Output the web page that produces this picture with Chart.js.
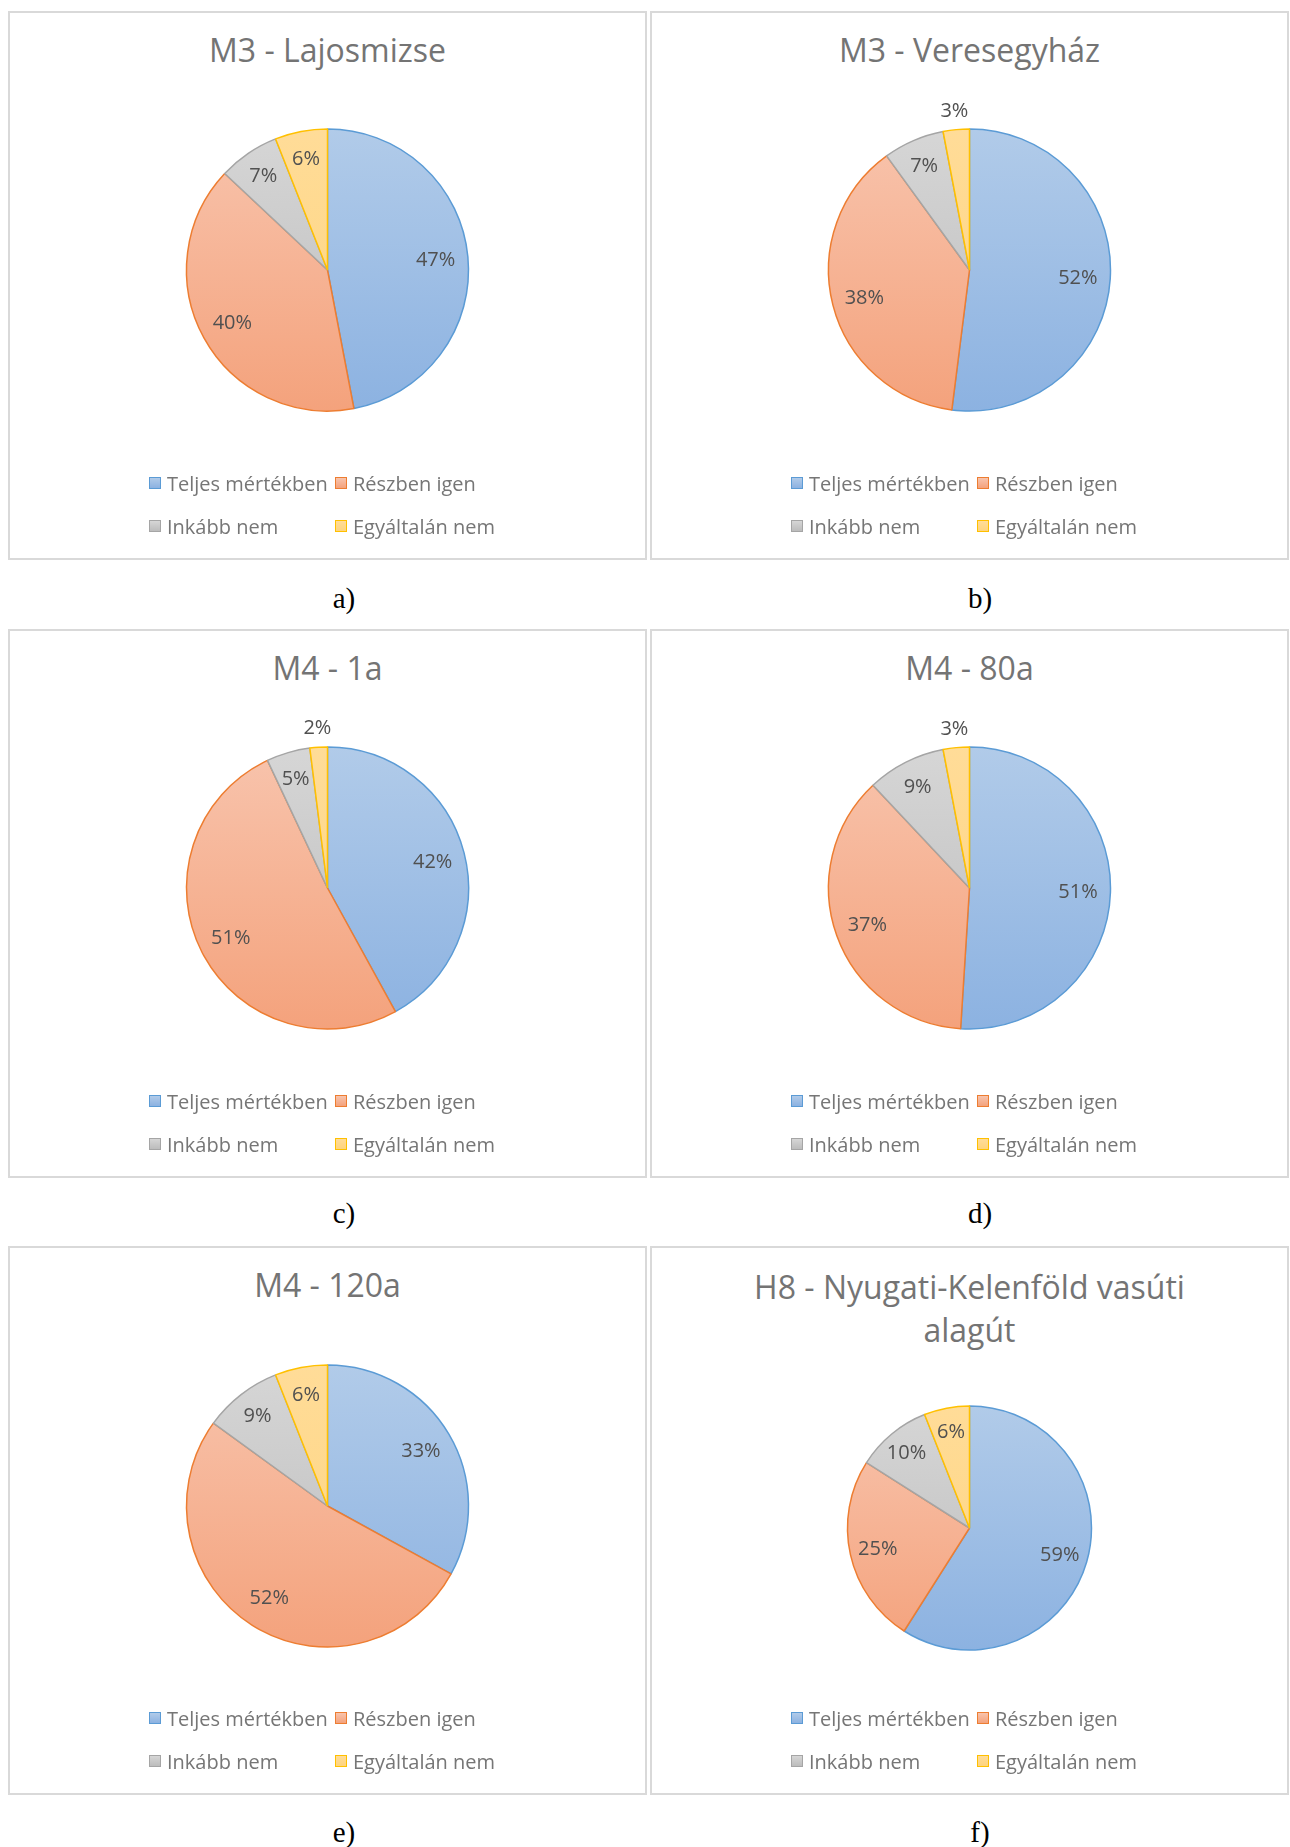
<!DOCTYPE html>
<html>
<head>
<meta charset="utf-8">
<script src="https://cdn.jsdelivr.net/npm/chart.js@4.4.1/dist/chart.umd.min.js"></script>
<style>
    body {
        margin: 0;
        background: #fff;
        width: 1290px;
        height: 1847px;
        position: relative;
        overflow: hidden;
        font-family: "Open Sans", sans-serif;
    }
    .panel {
        position: absolute;
        width: 639px;
        height: 549px;
        box-sizing: border-box;
        border: 2px solid #d9d9d9;
        background: #fff;
    }
    .panel canvas {
        position: absolute;
        left: 0;
    }
    .title {
        position: absolute;
        left: 0;
        right: 0;
        text-align: center;
        color: #747474;
        font-size: 32px;
        line-height: 43px;
        white-space: nowrap;
    }
    .legend {
        position: absolute;
        left: 139px;
        display: grid;
        grid-template-columns: 186px auto;
        font-size: 20px;
        line-height: 43px;
        color: #767676;
        white-space: nowrap;
    }
    .legend .item {
        display: flex;
        align-items: center;
    }
    .legend i {
        display: inline-block;
        width: 12px;
        height: 12px;
        box-sizing: border-box;
        border: 1.5px solid;
        margin-right: 6px;
    }
    .caption {
        position: absolute;
        font-family: "Liberation Serif", serif;
        font-size: 29px;
        color: #000;
        transform: translate(-50%, -50%);
    }
</style>
</head>
<body>
<script>
// answer categories, same order in every panel
const categories = ["Teljes mértékben", "Részben igen", "Inkább nem", "Egyáltalán nem"];

const panelTitles = [
    ["M3 - Lajosmizse"],
    ["M3 - Veresegyház"],
    ["M4 - 1a"],
    ["M4 - 80a"],
    ["M4 - 120a"],
    ["H8 - Nyugati-Kelenföld vasúti", "alagút"]
];
const panelCaptions = ["a)", "b)", "c)", "d)", "e)", "f)"];

// shares in percent
const lajosmizse = [47, 40, 7, 6];
const veresegyhaz = [52, 38, 7, 3];
const m4_1a = [42, 51, 5, 2];
const m4_80a = [51, 37, 9, 3];
const m4_120a = [33, 52, 9, 6];
const h8Alagut = [59, 25, 10, 6];
const panelValues = [lajosmizse, veresegyhaz, m4_1a, m4_80a, m4_120a, h8Alagut];

// office-style gradient fills + outlines
const fillTop = ["#b1cbe9", "#f8c4ad", "#d6d6d6", "#ffdc98"];
const fillBottom = ["#8cb2e1", "#f4a27c", "#bcbcbc", "#fed47e"];
const borderColors = ["#5b9bd5", "#ed7d31", "#a5a5a5", "#ffc000"];

// panel boxes (outer border) and pie placement inside them
const panelLayout = [
    { left: 8,   top: 11,   cy: 258.5, r: 141, titleY: 38.6 },
    { left: 650, top: 11,   cy: 258.5, r: 141, titleY: 38.6 },
    { left: 8,   top: 629,  cy: 258.5, r: 141, titleY: 38.6 },
    { left: 650, top: 629,  cy: 258.5, r: 141, titleY: 38.6 },
    { left: 8,   top: 1246, cy: 259.5, r: 141, titleY: 38.6 },
    { left: 650, top: 1246, cy: 281.5, r: 122, titleY: 40.5 }
];
const captionPos = [[344, 598], [980, 598], [344, 1213], [980, 1213], [344, 1832], [980, 1832]];

const CANVAS_W = 635;
const CANVAS_H = 400;

// percentage labels: inside the slice, tiny slices go outside the rim
const pctLabels = {
    id: "pctLabels",
    afterDatasetsDraw(chart) {
        const ctx = chart.ctx;
        const values = chart.data.datasets[0].data;
        ctx.save();
        ctx.font = '20px "Open Sans"';
        ctx.fillStyle = "#505050";
        ctx.textAlign = "center";
        ctx.textBaseline = "middle";
        chart.getDatasetMeta(0).data.forEach((arc, i) => {
            const p = arc.getProps(["x", "y", "startAngle", "endAngle", "outerRadius"], true);
            const mid = (p.startAngle + p.endAngle) / 2;
            let k = 0.77;
            if (values[i] <= 3) k = 1.14;
            else if (values[i] < 15) k = 0.81;
            const d = p.outerRadius * k;
            ctx.fillText(values[i] + "%", p.x + Math.cos(mid) * d, p.y + Math.sin(mid) * d + 1);
        });
        ctx.restore();
    }
};

function sliceFill(radius) {
    return (c) => {
        const chart = c.chart;
        const area = chart.chartArea;
        const i = c.dataIndex;
        if (!area) return fillTop[i];
        const cy = (area.top + area.bottom) / 2;
        const g = chart.ctx.createLinearGradient(0, cy - radius, 0, cy + radius);
        g.addColorStop(0, fillTop[i]);
        g.addColorStop(1, fillBottom[i]);
        return g;
    };
}

function buildLegend() {
    const legend = document.createElement("div");
    legend.className = "legend";
    categories.forEach((name, i) => {
        const item = document.createElement("span");
        item.className = "item";
        const box = document.createElement("i");
        box.style.borderColor = borderColors[i];
        box.style.background = `linear-gradient(${fillTop[i]}, ${fillBottom[i]})`;
        item.appendChild(box);
        item.appendChild(document.createTextNode(name));
        legend.appendChild(item);
    });
    return legend;
}

panelValues.forEach((values, n) => {
    const lay = panelLayout[n];

    const panel = document.createElement("div");
    panel.className = "panel";
    panel.style.left = lay.left + "px";
    panel.style.top = lay.top + "px";

    const title = document.createElement("div");
    title.className = "title";
    title.innerHTML = panelTitles[n].join("<br>");
    title.style.top = (lay.titleY - 21.5 - 2) + "px";
    panel.appendChild(title);

    const canvas = document.createElement("canvas");
    canvas.width = CANVAS_W;
    canvas.height = CANVAS_H;
    canvas.style.width = CANVAS_W + "px";
    canvas.style.height = CANVAS_H + "px";
    canvas.style.top = (lay.cy - 2 - CANVAS_H / 2) + "px";
    panel.appendChild(canvas);

    const legend = buildLegend();
    legend.style.top = (472 - 2 - 21.5) + "px";
    panel.appendChild(legend);

    document.body.appendChild(panel);

    const cap = document.createElement("div");
    cap.className = "caption";
    cap.textContent = panelCaptions[n];
    cap.style.left = captionPos[n][0] + "px";
    cap.style.top = captionPos[n][1] + "px";
    document.body.appendChild(cap);

    new Chart(canvas.getContext("2d"), {
        type: "pie",
        data: {
            labels: categories,
            datasets: [{
                data: values,
                backgroundColor: sliceFill(lay.r),
                borderColor: borderColors,
                borderWidth: 1.5
            }]
        },
        options: {
            responsive: false,
            animation: false,
            radius: lay.r,
            layout: { padding: 0 },
            plugins: {
                legend: { display: false },
                title: { display: false },
                tooltip: { enabled: false }
            }
        },
        plugins: [pctLabels]
    });
});
</script>
</body>
</html>
